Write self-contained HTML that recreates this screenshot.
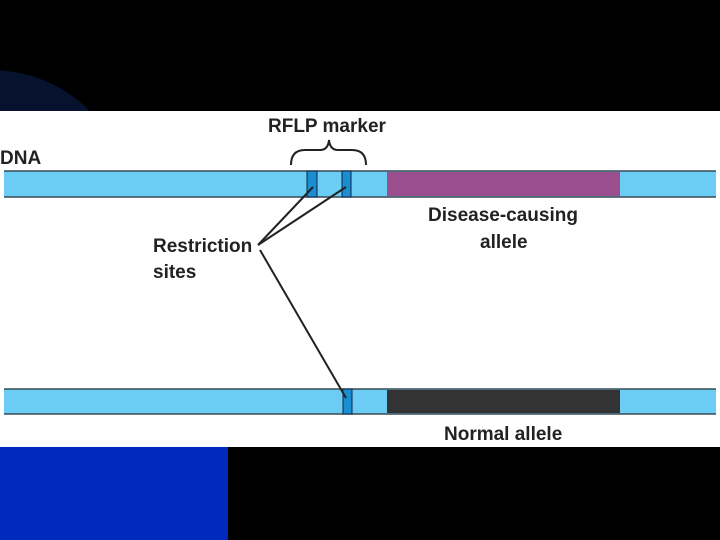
<!DOCTYPE html>
<html><head><style>
body{margin:0;width:720px;height:540px;background:#000;overflow:hidden;position:relative;font-family:"Liberation Sans",sans-serif}
.t{position:absolute;color:#222;font-size:19px;font-weight:bold;line-height:1;white-space:nowrap}
</style></head><body>
<div style="position:absolute;left:-140px;top:70px;width:260px;height:230px;border-radius:50%;background:#06122e"></div>
<div style="position:absolute;left:0;top:447px;width:228px;height:93px;background:#0029be"></div>
<div style="position:absolute;left:0;top:111px;width:720px;height:336px;background:#fff"></div>
<svg style="position:absolute;left:0;top:0" width="720" height="540">
<rect x="4" y="171" width="712" height="26" fill="#6ccdf4"/>
<line x1="4" y1="171" x2="716" y2="171" stroke="#3a4a55" stroke-width="1.5"/>
<line x1="4" y1="197" x2="716" y2="197" stroke="#3a4a55" stroke-width="1.5"/>
<rect x="307" y="171" width="10" height="26" fill="#1a8ed0" stroke="#124" stroke-width="1"/>
<rect x="342" y="171" width="9" height="26" fill="#1a8ed0" stroke="#124" stroke-width="1"/>
<rect x="387" y="172" width="233" height="24" fill="#9b4f8f"/>
<rect x="4" y="389" width="712" height="25" fill="#6ccdf4"/>
<line x1="4" y1="389" x2="716" y2="389" stroke="#3a4a55" stroke-width="1.5"/>
<line x1="4" y1="414" x2="716" y2="414" stroke="#3a4a55" stroke-width="1.5"/>
<rect x="343" y="389" width="9" height="25" fill="#1a8ed0" stroke="#124" stroke-width="1"/>
<rect x="387" y="390" width="233" height="23" fill="#333"/>
<path d="M291,165 Q291,150 305,150 L320,150 Q328,150 329,140 Q330,150 338,150 L352,150 Q366,150 366,165" fill="none" stroke="#222" stroke-width="2"/>
<g stroke="#222" stroke-width="2" fill="none">
<line x1="258" y1="245" x2="313" y2="187"/>
<line x1="258" y1="245" x2="346" y2="187"/>
<line x1="260" y1="250" x2="346" y2="398"/>
</g>
</svg>
<div class="t" style="left:268px;top:117px">RFLP marker</div>
<div class="t" style="left:0;top:149px">DNA</div>
<div class="t" style="left:428px;top:206px">Disease-causing</div>
<div class="t" style="left:480px;top:233px">allele</div>
<div class="t" style="left:153px;top:237px">Restriction</div>
<div class="t" style="left:153px;top:263px">sites</div>
<div class="t" style="left:444px;top:425px">Normal allele</div>
</body></html>
